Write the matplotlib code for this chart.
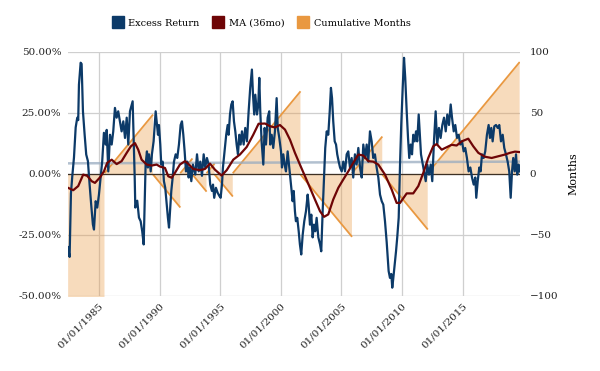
import numpy as np
import pandas as pd
import matplotlib
matplotlib.use('Agg')
import matplotlib.pyplot as plt
from matplotlib.lines import Line2D

# monthly excess return (%) at ~1.5 month steps
er_years = [1982.44, 1982.58, 1982.69, 1982.80, 1982.94, 1983.08, 1983.21, 1983.29, 1983.35, 1983.49,
            1983.57, 1983.68, 1983.82, 1983.95, 1984.09, 1984.23, 1984.36, 1984.50, 1984.59, 1984.73,
            1984.86, 1985.00, 1985.14, 1985.27, 1985.41, 1985.55, 1985.64, 1985.77, 1985.91, 1986.05,
            1986.18, 1986.32, 1986.46, 1986.59, 1986.73, 1986.87, 1987.01, 1987.15, 1987.29, 1987.42,
            1987.56, 1987.78, 1987.95, 1988.00, 1988.16, 1988.30, 1988.44, 1988.57, 1988.69, 1988.77,
            1988.85, 1988.96, 1989.04, 1989.13, 1989.27, 1989.37, 1989.51, 1989.68, 1989.76, 1989.87,
            1989.95, 1990.06, 1990.14, 1990.26, 1990.36, 1990.47, 1990.59, 1990.69, 1990.78, 1990.88,
            1990.97, 1991.08, 1991.19, 1991.33, 1991.46, 1991.60, 1991.74, 1991.85, 1991.96, 1992.07,
            1992.18, 1992.29, 1992.40, 1992.51, 1992.62, 1992.76, 1992.95, 1993.09, 1993.23, 1993.36,
            1993.50, 1993.64, 1993.77, 1993.91, 1994.05, 1994.18, 1994.32, 1994.41, 1994.51, 1994.65,
            1994.79, 1994.93, 1995.04, 1995.15, 1995.23, 1995.34, 1995.42, 1995.50, 1995.62, 1995.70,
            1995.81, 1995.92, 1996.03, 1996.14, 1996.25, 1996.36, 1996.47, 1996.58, 1996.69, 1996.80,
            1996.94, 1997.07, 1997.21, 1997.35, 1997.48, 1997.62, 1997.71, 1997.81, 1997.90, 1998.04,
            1998.14, 1998.23, 1998.31, 1998.42, 1998.56, 1998.67, 1998.78, 1998.92, 1999.05, 1999.13,
            1999.25, 1999.38, 1999.52, 1999.66, 1999.75, 1999.88, 2000.02, 2000.10, 2000.21, 2000.32,
            2000.43, 2000.57, 2000.70, 2000.84, 2000.98, 2001.07, 2001.17, 2001.25, 2001.36, 2001.48,
            2001.58, 2001.69, 2001.81, 2001.94, 2002.08, 2002.22, 2002.30, 2002.41, 2002.52, 2002.63,
            2002.74, 2002.85, 2002.96, 2003.10, 2003.24, 2003.34, 2003.46, 2003.57, 2003.67, 2003.79,
            2003.92, 2004.04, 2004.14, 2004.23, 2004.33, 2004.45, 2004.56, 2004.66, 2004.78, 2004.89,
            2005.03, 2005.16, 2005.30, 2005.44, 2005.57, 2005.71, 2005.85, 2005.98, 2006.12, 2006.26,
            2006.40, 2006.54, 2006.68, 2006.81, 2006.95, 2007.09, 2007.22, 2007.36, 2007.50, 2007.63,
            2007.77, 2007.91, 2008.05, 2008.19, 2008.33, 2008.46, 2008.60, 2008.74, 2008.90, 2009.01,
            2009.12, 2009.20, 2009.28, 2009.40, 2009.51, 2009.61, 2009.73, 2009.84, 2009.94, 2010.06,
            2010.17, 2010.27, 2010.39, 2010.50, 2010.60, 2010.72, 2010.83, 2010.93, 2011.05, 2011.16,
            2011.26, 2011.38, 2011.46, 2011.57, 2011.68, 2011.82, 2011.96, 2012.09, 2012.23, 2012.37,
            2012.50, 2012.64, 2012.78, 2012.91, 2013.05, 2013.19, 2013.33, 2013.47, 2013.61, 2013.74,
            2013.88, 2014.02, 2014.13, 2014.27, 2014.40, 2014.54, 2014.68, 2014.81, 2014.95, 2015.09,
            2015.22, 2015.36, 2015.50, 2015.64, 2015.78, 2015.92, 2016.05, 2016.13, 2016.25, 2016.38,
            2016.49, 2016.60, 2016.74, 2016.87, 2017.01, 2017.15, 2017.26, 2017.37, 2017.48, 2017.62,
            2017.76, 2017.90, 2018.03, 2018.17, 2018.31, 2018.44, 2018.58, 2018.72, 2018.85, 2018.97,
            2019.08, 2019.18, 2019.30, 2019.41, 2019.51, 2019.63, 2019.74]
er_values = [-30, -34, -8, -1, 6.7, 19, 23, 22, 36.5, 45.5,
             45, 25.6, 16, 7.9, 5.2, -4.4, -12.6, -20.7, -22.8, -11.2,
             -13.8, -8.5, -1.5, 5.2, 16.8, 12, 18, 1, 16, 12,
             17.4, 27, 23, 25.6, 21.5, 17.4, 21.5, 14.7, 23, 12,
             25.6, 29.7, -1.5, -13.8, -11, -17.9, -19.4, -23.5, -28.9, -12.6,
             3.8, 9.2, 2.6, 8, 1, 8, 13.3, 25.6, 21.5, 16,
             20, 12, 3.8, 5, -3, -5.7, -12.6, -18, -22, -14,
             -7, -1.6, 5, 8, 6.5, 12, 20, 21.5, 16, 9.2,
             1, 5, -1.5, 2.6, -3, 3.8, -0.3, 8, 1, 5,
             -0.8, 8, 2.6, 6.5, 3.8, -4.4, -7, -4.4, -9.8, -5.7,
             -7.7, -9, -9.8, -4.4, 2.6, 8, 12, 16, 20, 16,
             24.3, 28.4, 29.7, 21.5, 17.4, 12, 8, 16, 12, 17.4,
             12, 18.8, 13.3, 25.6, 35.2, 42.7, 32.4, 24.3, 32.4, 24.3,
             28, 39.3, 25.6, 13.3, 3.8, 18.8, 12, 23, 25.6, 12,
             16, 10.6, 17.4, 31, 18.8, 14.7, 9.2, 2.6, 8, 3.8,
             1, 9.2, 2.6, -4.4, -11.2, -7, -15.3, -19.4, -18, -23.5,
             -28.9, -33, -24.9, -19.4, -15.3, -8.5, -12.6, -20.8, -16.7, -26,
             -20.8, -23.5, -18, -26, -28.9, -31.7, -15, -1.6, 10.6, 17.4,
             16, 25.6, 35.2, 31, 21.5, 13.3, 12, 8, 5, 2.6,
             1, 5, 1, 8, 9.2, 2.6, 6.5, -1.5, 8, 3.8,
             10.6, 2.6, -1.5, 12, 6.5, 12, 5, 17.4, 13.3, 6.5,
             8, 2.6, -1.5, -8.5, -11.2, -12.6, -19.4, -28, -39.8, -42.6,
             -41, -46.6, -43, -37.1, -31.7, -26, -18, 3.8, 20, 35.2,
             47.5, 39.3, 25.6, 14.7, 6.5, 12, 8, 16, 13.3, 17.4,
             13.3, 24.3, 17.4, 8, 5, 1, -3, 3.8, -0.3, 3.8,
             -3, 13.3, 25.6, 12, 18.8, 14.7, 20, 23, 17.4, 24.3,
             20, 28.4, 23, 17.4, 20, 14.7, 16, 12, 13.3, 9.2,
             10.6, 6.5, 1, 2.6, -1.5, -4.4, -1.5, -9.8, -3, 2.6,
             1, 8, 6.5, 9.2, 16, 20, 14.7, 18.8, 13.3, 19.5,
             20, 18.8, 20, 13.3, 16, 10.6, 8, 5, 1, -9.8,
             1, 6.5, 1, 8, -0.3, 3.8, 1]

# 36 month moving average (%)
ma_years = [1982.44, 1982.88, 1983.29, 1983.70, 1984.03, 1984.40, 1984.67, 1985.08, 1985.41, 1985.68,
            1986.05, 1986.46, 1986.87, 1987.29, 1987.64, 1987.97, 1988.24, 1988.52, 1988.94, 1989.35,
            1989.76, 1990.03, 1990.45, 1990.72, 1991.00, 1991.27, 1991.68, 1992.10, 1992.43, 1992.78,
            1993.33, 1993.75, 1994.16, 1994.57, 1995.12, 1995.54, 1996.08, 1996.63, 1997.19, 1997.73,
            1998.17, 1998.70, 1999.11, 1999.52, 1999.93, 2000.35, 2000.76, 2001.17, 2001.58, 2002.00,
            2002.41, 2002.82, 2003.24, 2003.57, 2003.92, 2004.33, 2004.75, 2005.16, 2005.57, 2005.98,
            2006.40, 2006.81, 2007.22, 2007.63, 2008.05, 2008.60, 2009.15, 2009.56, 2009.84, 2010.39,
            2010.93, 2011.35, 2011.76, 2012.17, 2012.58, 2012.86, 2013.28, 2013.69, 2014.10, 2014.51,
            2014.93, 2015.47, 2015.88, 2016.30, 2016.85, 2017.40, 2017.95, 2018.50, 2018.91, 2019.32,
            2019.74]
ma_values = [-5.7, -6.7, -5, -0.3, -0.8, -3, -3.7, -1.5, 1, 4.5,
             5.8, 4, 5.2, 8.6, 11.3, 12.6, 9.9, 5.8, 3.8, 3.4,
             3.8, 3, 2.4, -1, -1.6, 0.4, 3.8, 5.2, 3.8, 2,
             1.5, 2, 4.2, 1.7, -0.7, 1.5, 5.8, 7.9, 11, 16,
             20.5, 20.6, 19.5, 19, 20, 18.1, 14, 8.6, 3.8, -1,
             -5.7, -10.5, -15.3, -17.6, -16.6, -10.5, -5.7, -2.3, 1, 4.5,
             7.9, 7.5, 5.2, 5, 3.8, -0.3, -6.4, -11.9, -11.9, -8,
             -8, -5, 0.4, 6.5, 11.3, 12.2, 9.9, 10.9, 11.9, 11.6,
             13.3, 14.4, 11.3, 8.6, 7, 6.5, 7.2, 7.9, 8.6, 9.1,
             8.9]

# long run average line (%)
avg_years = [1982.44, 2019.74]
avg_values = [4.3, 5.0]

# regimes for the cumulative month counter (right axis)
first_month = '1982-06'
last_month = '2019-09'
regime_start = ['1982-06', '1985-07', '1989-07', '1991-10', '1992-10', '1993-12',
                '1994-08', '1996-02', '2001-09', '2005-12', '2008-06', '2012-03']
regime_sign = [-1, 1, -1, 1, -1, 1, -1, 1, -1, 1, -1, 1]
carry_in = 110  # months already counted in the first regime before the chart starts

x_ticks = [1985, 1990, 1995, 2000, 2005, 2010, 2015]

# build the monthly counter
months = pd.period_range(first_month, last_month, freq='M')
month_yrs = np.array(months.year + (months.month - 1) / 12.0)
starts = [months.get_loc(pd.Period(s, freq='M')) for s in regime_start]
bounds = starts + [len(months)]
segments = []
for i in range(len(regime_start)):
    n = bounds[i + 1] - bounds[i]
    cnt = np.arange(1, n + 1) + (carry_in if i == 0 else 0)
    segments.append((month_yrs[bounds[i]:bounds[i + 1]], regime_sign[i] * cnt))

blue = '#0c3a68'
red = '#6e0506'
orange = '#e99840'
grid_c = '#cfcfcf'
font = 'DejaVu Serif'
plt.rcParams['font.family'] = font

fig = plt.figure(figsize=(6, 3.71), dpi=100)
ax2 = fig.add_axes([0.1138, 0.2022, 0.7529, 0.6584])
ax = ax2.twinx()
ax.yaxis.tick_left()
ax2.yaxis.tick_right()
ax.set_zorder(ax2.get_zorder() + 1)
ax.patch.set_visible(False)

for yrs, cnt in segments:
    ax2.fill_between(yrs, 0, cnt, color=orange, alpha=0.35, lw=0, zorder=1)
    ax2.plot(yrs, cnt, color=orange, lw=1.3, zorder=2)

ax2.set_ylim(-100, 100)
ax2.set_yticks([-100, -50, 0, 50, 100])
ax2.set_axisbelow(True)
ax2.grid(True, color=grid_c, lw=0.9)
ax2.set_ylabel('Months', fontsize=8, labelpad=7)
ax2.yaxis.set_label_position('right')

ax.plot(avg_years, avg_values, color='#98abc0', lw=1.8, alpha=0.75)
ax.axhline(0, color='#3d3024', lw=0.9)
ax.plot(er_years, er_values, color=blue, lw=1.6)
ax.plot(ma_years, ma_values, color=red, lw=1.6)
ax.set_ylim(-50, 50)
ax.set_yticks([-50, -25, 0, 25, 50])
ax.set_yticklabels(['-50.00%', '-25.00%', '0.00%', '25.00%', '50.00%'])

for a in (ax, ax2):
    a.set_xlim(1982.47, 2019.74)
    for s in a.spines.values():
        s.set_visible(False)
    a.tick_params(length=0, labelsize=7.5, colors='#222222')
ax.tick_params(axis='y', pad=5)
ax2.tick_params(axis='y', pad=7)

ax2.set_xticks(x_ticks)
ax2.set_xticklabels(['01/01/%d' % y for y in x_ticks], rotation=45,
                    ha='right', va='top', rotation_mode='anchor')
ax2.tick_params(axis='x', pad=4)
ax.tick_params(axis='x', labelbottom=False)

handles = [Line2D([], [], ls='', marker='s', markersize=8, color=c) for c in (blue, red, orange)]
fig.legend(handles, ['Excess Return', 'MA (36mo)', 'Cumulative Months'],
           loc='center', bbox_to_anchor=(0.436, 0.938), ncol=3, frameon=False,
           fontsize=7, handletextpad=0.6, columnspacing=1.4, handlelength=1.0)

fig.savefig('out.png', dpi=100)
